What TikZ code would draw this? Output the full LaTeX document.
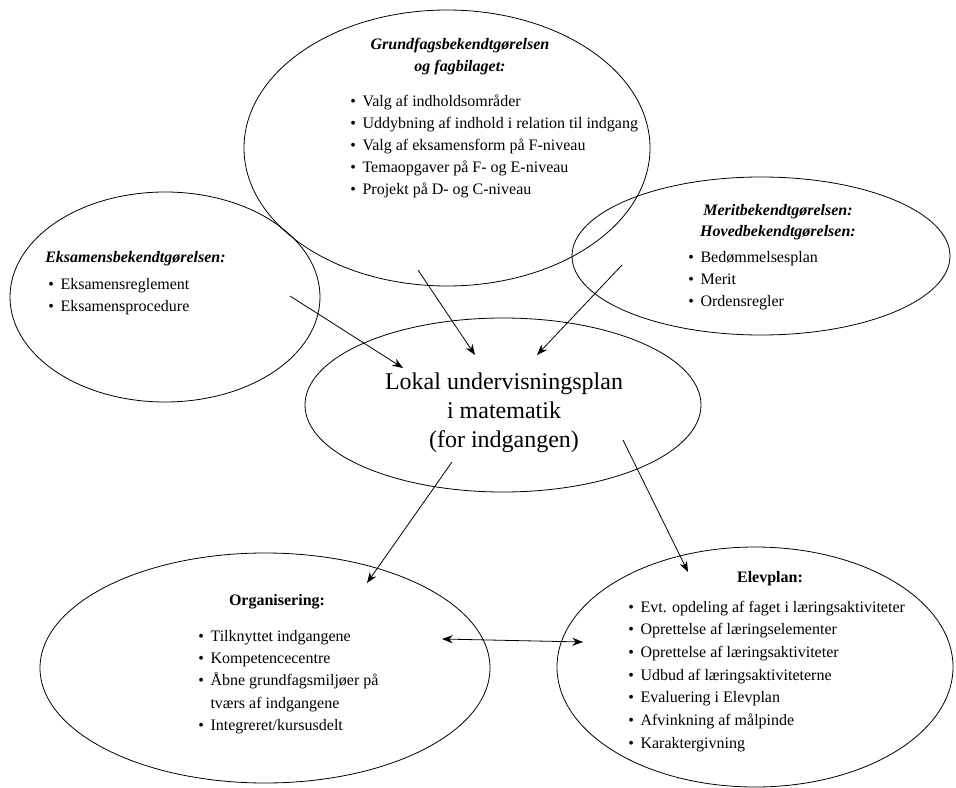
\documentclass[tikz,border=0pt]{standalone}
\usepackage{fontspec}
\setmainfont{Liberation Serif}
\usetikzlibrary{arrows.meta,shapes.geometric}

\begin{document}
\begin{tikzpicture}[
  x=0.75pt, y=-0.75pt,
  ell/.style={draw, ellipse, line width=0.6pt, inner sep=0pt},
  txt/.style={inner sep=0pt, font=\fontsize{12}{16.5}\selectfont},
  ttl/.style={inner sep=0pt, font=\fontsize{12}{16}\selectfont\bfseries\itshape},
  hdr/.style={inner sep=0pt, font=\fontsize{12}{16}\selectfont\bfseries},
  pil/.style={line width=0.6pt, -{Stealth[length=8pt,width=6pt]}},
  dpil/.style={line width=0.6pt, {Stealth[length=8pt,width=6pt]}-{Stealth[length=8pt,width=6pt]}},
]
\useasboundingbox (0,0) rectangle (956,788);

	\node [ell, minimum width=304.5pt, minimum height=207pt] (grund) at (447,148) {};
	\node [ell, minimum width=232.5pt, minimum height=157.5pt] (eks) at (165,297) {};
	\node [ell, minimum width=283.5pt, minimum height=118.5pt] (merit) at (761,256) {};
	\node [ell, minimum width=297pt, minimum height=130.5pt] (lokal) at (503,405) {};
	\node [ell, minimum width=337.5pt, minimum height=172.5pt] (org) at (265,668) {};
	\node [ell, minimum width=297pt, minimum height=180pt] (elev) at (755,667) {};

	\node [ttl, anchor=base] (grund-t) at (460,50)
		{\begin{tabular}[t]{@{}c@{}}Grundfagsbekendtgørelsen\\og fagbilaget:\end{tabular}};
	\node [txt, anchor=base west] (grund-l) at (350,107)
		{\begin{tabular}[t]{@{}l@{\hspace{5pt}}l@{}}
		\textbullet & Valg af indholdsområder\\
		\textbullet & Uddybning af indhold i relation til indgang\\
		\textbullet & Valg af eksamensform på F-niveau\\
		\textbullet & Temaopgaver på F- og E-niveau\\
		\textbullet & Projekt på D- og C-niveau
		\end{tabular}};

	\node [ttl, anchor=base west] (eks-t) at (45,262) {Eksamensbekendtgørelsen:};
	\node [txt, anchor=base west, font=\fontsize{12}{17}\selectfont] (eks-l) at (48,289)
		{\begin{tabular}[t]{@{}l@{\hspace{5pt}}l@{}}
		\textbullet & Eksamensreglement\\
		\textbullet & Eksamensprocedure
		\end{tabular}};

	\node [ttl, anchor=base] (merit-t) at (778,215)
		{\begin{tabular}[t]{@{}c@{}}Meritbekendtgørelsen:\\Hovedbekendtgørelsen:\end{tabular}};
	\node [txt, anchor=base west] (merit-l) at (688,262)
		{\begin{tabular}[t]{@{}l@{\hspace{5pt}}l@{}}
		\textbullet & Bedømmelsesplan\\
		\textbullet & Merit\\
		\textbullet & Ordensregler
		\end{tabular}};

	\node [inner sep=0pt, anchor=base, font=\fontsize{18}{22}\selectfont] (lokal-t) at (504,389)
		{\begin{tabular}[t]{@{}c@{}}Lokal undervisningsplan\\i matematik\\(for indgangen)\end{tabular}};

	\node [hdr, anchor=base] (org-t) at (277,605) {Organisering:};
	\node [txt, anchor=base west, font=\fontsize{12}{16.8}\selectfont] (org-l) at (198,641)
		{\begin{tabular}[t]{@{}l@{\hspace{5pt}}l@{}}
		\textbullet & Tilknyttet indgangene\\
		\textbullet & Kompetencecentre\\
		\textbullet & Åbne grundfagsmiljøer på\\
		 & tværs af indgangene\\
		\textbullet & Integreret/kursusdelt
		\end{tabular}};

	\node [hdr, anchor=base] (elev-t) at (770,582) {Elevplan:};
	\node [txt, anchor=base west, font=\fontsize{12}{17}\selectfont] (elev-l) at (628,612)
		{\begin{tabular}[t]{@{}l@{\hspace{5pt}}l@{}}
		\textbullet & Evt. opdeling af faget i læringsaktiviteter\\
		\textbullet & Oprettelse af læringselementer\\
		\textbullet & Oprettelse af læringsaktiviteter\\
		\textbullet & Udbud af læringsaktiviteterne\\
		\textbullet & Evaluering i Elevplan\\
		\textbullet & Afvinkning af målpinde\\
		\textbullet & Karaktergivning
		\end{tabular}};

	\coordinate (grund-ud) at (418,270);
	\coordinate (eks-ud) at (290,296);
	\coordinate (merit-ud) at (622,265);
	\coordinate (lokal-ind1) at (475,355);
	\coordinate (lokal-ind2) at (403,368);
	\coordinate (lokal-ind3) at (537,355);
	\coordinate (lokal-ud1) at (452,462);
	\coordinate (lokal-ud2) at (623,440);
	\coordinate (org-ind) at (367,583);
	\coordinate (elev-ind) at (688,572);
	\coordinate (org-pil) at (442,639);
	\coordinate (elev-pil) at (583,642);

	\draw [pil] (grund-ud) -- (lokal-ind1);
	\draw [pil] (eks-ud) -- (lokal-ind2);
	\draw [pil] (merit-ud) -- (lokal-ind3);
	\draw [pil] (lokal-ud1) -- (org-ind);
	\draw [pil] (lokal-ud2) -- (elev-ind);
	\draw [dpil] (org-pil) -- (elev-pil);

\end{tikzpicture}
\end{document}
